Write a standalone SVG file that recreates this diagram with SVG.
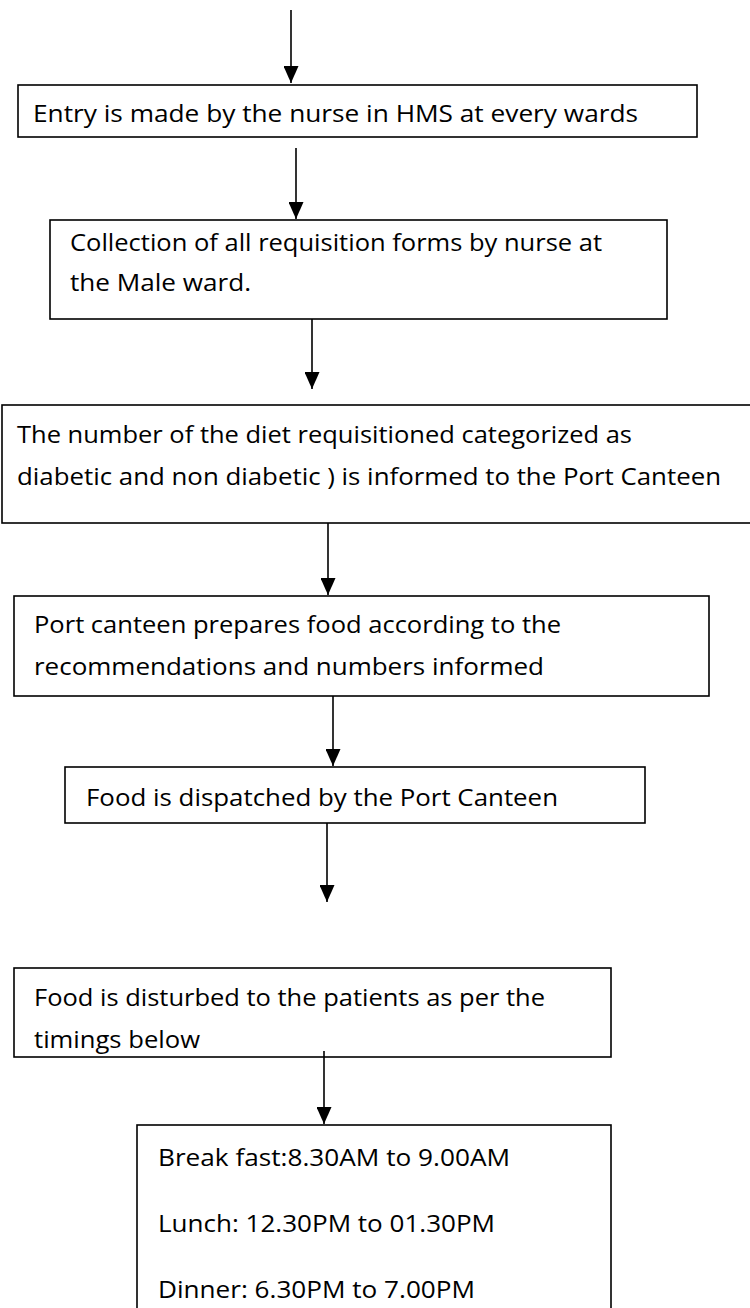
<svg xmlns="http://www.w3.org/2000/svg" width="750" height="1308" viewBox="0 0 750 1308">
  <defs>
    <marker id="arrow" markerUnits="userSpaceOnUse" markerWidth="17" markerHeight="15" viewBox="0 0 17 15" refX="17" refY="7.5" orient="auto">
      <path d="M0,0 L17,7.5 L0,15 Z" fill="#000"/>
    </marker>
    <style>
      .box { fill: #fff; stroke: #000; stroke-width: 1.6; }
      .lbl { font-family: "Open Sans", "Liberation Sans", sans-serif; font-size: 24px; fill: #000; }
      .conn { stroke: #000; stroke-width: 1.6; fill: none; marker-end: url(#arrow); }
    </style>
  </defs>
  <rect width="750" height="1308" fill="#fff"/>

  <g id="node-entry">
    <rect class="box" x="18" y="85" width="679" height="52"/>
    <text class="lbl" x="33" y="122" textLength="605" lengthAdjust="spacingAndGlyphs">Entry is made by the nurse in HMS  at every wards</text>
  </g>

  <g id="node-collection">
    <rect class="box" x="50" y="220" width="617" height="99"/>
    <text class="lbl" x="70" y="251" textLength="532" lengthAdjust="spacingAndGlyphs">Collection of all requisition forms by nurse at</text>
    <text class="lbl" x="70" y="291" textLength="181" lengthAdjust="spacingAndGlyphs">the Male ward.</text>
  </g>

  <g id="node-diet-count">
    <rect class="box" x="2" y="405" width="760" height="118"/>
    <text class="lbl" x="17" y="443" textLength="615" lengthAdjust="spacingAndGlyphs">The number of the diet requisitioned categorized as</text>
    <text class="lbl" x="17" y="485" textLength="704" lengthAdjust="spacingAndGlyphs">diabetic and non diabetic ) is informed to the Port  Canteen</text>
  </g>

  <g id="node-prepare">
    <rect class="box" x="14" y="596" width="695" height="100"/>
    <text class="lbl" x="34" y="633" textLength="527" lengthAdjust="spacingAndGlyphs">Port canteen prepares food according to the</text>
    <text class="lbl" x="34" y="675" textLength="510" lengthAdjust="spacingAndGlyphs">recommendations and   numbers informed</text>
  </g>

  <g id="node-dispatch">
    <rect class="box" x="65" y="767" width="580" height="56"/>
    <text class="lbl" x="86" y="806" textLength="472" lengthAdjust="spacingAndGlyphs">Food is dispatched  by the Port Canteen</text>
  </g>

  <g id="node-distribute">
    <rect class="box" x="14" y="968" width="597" height="89"/>
    <text class="lbl" x="34" y="1006" textLength="511" lengthAdjust="spacingAndGlyphs">Food is disturbed to the patients as per the</text>
    <text class="lbl" x="34" y="1048" textLength="166" lengthAdjust="spacingAndGlyphs">timings below</text>
  </g>

  <g id="node-timings">
    <rect class="box" x="137" y="1125" width="474" height="200"/>
    <text class="lbl" x="158" y="1166" textLength="352" lengthAdjust="spacingAndGlyphs">Break fast:8.30AM to 9.00AM</text>
    <text class="lbl" x="158" y="1232" textLength="337" lengthAdjust="spacingAndGlyphs">Lunch: 12.30PM to 01.30PM</text>
    <text class="lbl" x="158" y="1298" textLength="317" lengthAdjust="spacingAndGlyphs">Dinner: 6.30PM to 7.00PM</text>
  </g>

  <g id="connectors">
    <line class="conn" x1="291" y1="10" x2="291" y2="83"/>
    <line class="conn" x1="296" y1="148" x2="296" y2="219"/>
    <line class="conn" x1="312" y1="319" x2="312" y2="389"/>
    <line class="conn" x1="328" y1="523" x2="328" y2="595"/>
    <line class="conn" x1="333" y1="696" x2="333" y2="766"/>
    <line class="conn" x1="327" y1="823" x2="327" y2="902"/>
    <line class="conn" x1="324" y1="1051" x2="324" y2="1124"/>
  </g>
</svg>
